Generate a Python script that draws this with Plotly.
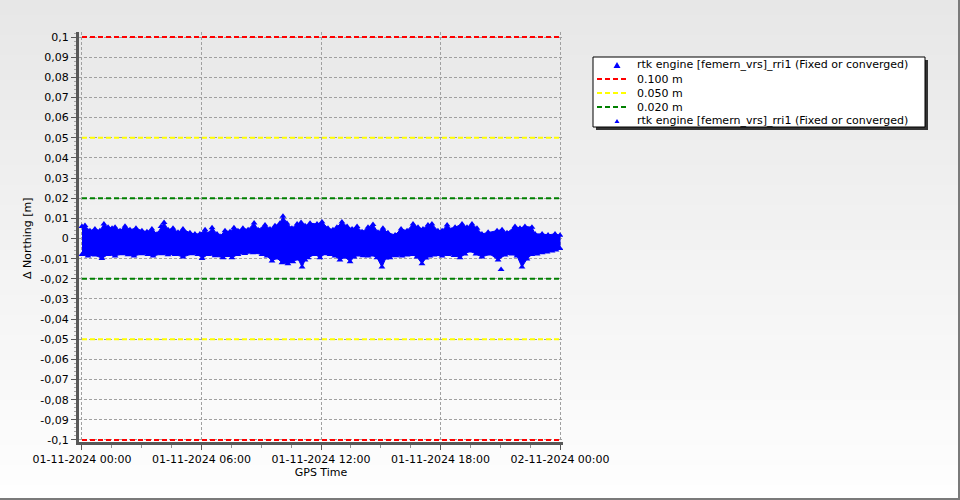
import plotly.graph_objects as go
import pandas as pd

# ---------------- data ----------------
SERIES_NAME = "rtk engine [femern_vrs]_rri1 (Fixed or converged)"
DAY_START = "2024-11-01 00:00"
DAY_END = "2024-11-02 00:00"

# upper envelope of the dense point cloud: hours after DAY_START, value in mm
UPPER_H = [0.00, 0.15, 0.40, 0.65, 0.90, 1.10, 1.31, 1.51, 1.66, 1.91, 2.16, 2.41, 2.71, 3.01,
           3.26, 3.51, 3.77, 3.97, 4.12, 4.32, 4.57, 4.82, 5.07, 5.42, 5.67, 5.92, 6.18, 6.33,
           6.53, 6.78, 6.93, 7.18, 7.43, 7.63, 7.83, 8.08, 8.34, 8.64, 8.84, 9.19, 9.44, 9.69,
           9.94, 10.09, 10.29, 10.54, 10.80, 11.00, 11.20, 11.45, 11.80, 12.05, 12.35, 12.60,
           12.80, 13.05, 13.31, 13.56, 13.81, 14.06, 14.36, 14.61, 14.86, 15.11, 15.36, 15.72,
           16.02, 16.32, 16.62, 16.87, 17.12, 17.37, 17.57, 17.87, 18.08, 18.33, 18.58, 18.73,
           19.08, 19.33, 19.58, 19.83, 20.08, 20.39, 20.84, 21.09, 21.34, 21.74, 21.99, 22.24,
           22.59, 22.75, 23.10, 23.40, 23.75, 24.00]
UPPER_MM = [6.0, 6.4, 3.9, 4.7, 3.9, 7.2, 5.6, 5.1, 5.6, 3.9, 6.1, 4.4, 5.1, 3.9,
            3.4, 4.7, 2.3, 6.0, 8.0, 4.4, 5.1, 3.1, 4.7, 2.8, 2.3, 2.3, 4.4, 2.3,
            5.4, 2.3, 1.1, 3.9, 3.4, 5.4, 3.9, 5.1, 4.4, 7.7, 4.4, 6.7, 4.7, 6.3,
            7.6, 11.0, 7.6, 5.1, 7.2, 8.0, 6.3, 7.6, 7.2, 8.2, 5.1, 4.4,
            5.6, 8.2, 6.0, 4.7, 6.0, 3.4, 5.6, 7.0, 3.1, 5.1, 2.8, 1.8,
            4.7, 3.9, 7.2, 5.6, 4.7, 6.7, 7.2, 3.9, 3.9, 6.7, 4.4, 5.6,
            7.2, 5.6, 7.2, 5.1, 2.3, 3.1, 3.9, 4.4, 2.8, 6.0, 5.1, 6.0,
            5.6, 2.3, 2.3, 1.8, 2.3, 1.6]

# lower envelope of the dense point cloud: hours after DAY_START, value in mm
LOWER_H = [0.00, 0.30, 0.65, 1.00, 1.31, 1.66, 2.01, 2.31, 2.61, 3.01, 3.31, 3.57, 4.02, 4.32,
           4.67, 5.07, 5.52, 5.82, 6.03, 6.33, 6.68, 7.08, 7.33, 7.53, 7.83, 8.18, 8.59, 9.04,
           9.29, 9.54, 9.79, 10.04, 10.34, 10.59, 10.85, 11.05, 11.20, 11.35, 11.70, 11.95,
           12.20, 12.45, 12.70, 12.95, 13.21, 13.46, 13.66, 13.86, 14.11, 14.36, 14.56, 14.81,
           15.06, 15.26, 15.46, 15.77, 16.07, 16.32, 16.57, 16.82, 17.07, 17.27, 17.47, 17.67,
           17.87, 18.08, 18.38, 18.68, 18.98, 19.23, 19.48, 19.78, 20.08, 20.49, 20.89, 21.24,
           21.59, 21.84, 22.09, 22.34, 22.59, 22.85, 23.10, 23.35, 23.60, 23.80, 24.00]
LOWER_MM = [-7.9, -8.7, -8.2, -9.9, -7.9, -8.7, -7.6, -8.1, -8.7, -7.6, -7.9, -8.7, -7.6, -8.0,
            -7.9, -9.2, -7.6, -7.9, -9.9, -7.9, -8.5, -9.5, -8.4, -9.5, -7.9, -7.5, -7.1, -7.9,
            -8.7, -11.2, -9.7, -12.0, -12.5, -11.5, -10.2, -14.2, -10.7, -9.5, -7.9, -9.5,
            -7.6, -7.9, -8.7, -10.7, -9.2, -11.5, -9.2, -8.2, -8.5, -8.7, -8.2, -9.5,
            -14.2, -9.7, -9.5, -8.5, -8.7, -8.2, -7.9, -9.2, -12.5, -9.7, -8.7, -8.2,
            -7.9, -8.7, -7.9, -8.4, -9.5, -7.7, -6.2, -7.7, -9.2, -7.7, -10.7, -8.2,
            -7.7, -8.7, -14.2, -10.2, -7.9, -7.7, -7.1, -6.7, -6.2, -5.7, -4.9]

# isolated point below the cloud
OUTLIER_H = [21.04]
OUTLIER_MM = [-15.4]

THRESH_NAMES = ["0.100 m", "0.050 m", "0.020 m"]
THRESH_VALS = [0.100, 0.050, 0.020]

Y_TICKS = [0.1, 0.09, 0.08, 0.07, 0.06, 0.05, 0.04, 0.03, 0.02, 0.01, 0.0,
           -0.01, -0.02, -0.03, -0.04, -0.05, -0.06, -0.07, -0.08, -0.09, -0.1]
Y_TICK_TEXT = ["0,1", "0,09", "0,08", "0,07", "0,06", "0,05", "0,04", "0,03", "0,02", "0,01", "0",
               "-0,01", "-0,02", "-0,03", "-0,04", "-0,05", "-0,06", "-0,07", "-0,08", "-0,09", "-0,1"]
X_TICKS = ["2024-11-01 00:00", "2024-11-01 06:00", "2024-11-01 12:00",
           "2024-11-01 18:00", "2024-11-02 00:00"]
X_TICK_TEXT = ["01-11-2024 00:00", "01-11-2024 06:00", "01-11-2024 12:00",
               "01-11-2024 18:00", "02-11-2024 00:00"]
X_TITLE = "GPS Time"
Y_TITLE = "Δ Northing [m]"

# ---------------- styles / layout ----------------
BLUE = "#0000ff"
THRESH_COLORS = ["#ff0000", "#ffff00", "#008000"]
FONT = "DejaVu Sans"
FS = 11

W, H = 960, 500
L, R, T, B = 79, 563, 32, 442


def pxx(x):
    return (x - L) / (R - L)


def pxy(y):
    return (B - y) / (B - T)


t0 = pd.Timestamp(DAY_START)


def to_time(hours):
    return [t0 + pd.to_timedelta(h, unit="h") for h in hours]


up_t = to_time(UPPER_H)
lo_t = to_time(LOWER_H)
up_v = [v / 1000 for v in UPPER_MM]
lo_v = [v / 1000 for v in LOWER_MM]

fig = go.Figure()

# threshold lines
for name, val, col in zip(THRESH_NAMES, THRESH_VALS, THRESH_COLORS):
    fig.add_trace(go.Scatter(
        x=[DAY_START, DAY_END, None, DAY_START, DAY_END],
        y=[val, val, None, -val, -val],
        mode="lines", name=name,
        line=dict(color=col, width=2, dash="5px,3px"),
        hoverinfo="skip", showlegend=False))

# dense point cloud: solid body between the envelopes
fig.add_trace(go.Scatter(
    x=up_t + lo_t[::-1], y=up_v + lo_v[::-1],
    mode="lines", fill="toself", fillcolor=BLUE,
    line=dict(color=BLUE, width=1), name=SERIES_NAME,
    hoverinfo="skip", showlegend=False))

mk = dict(symbol="triangle-up", size=6, color=BLUE, line=dict(width=0))
fig.add_trace(go.Scatter(x=up_t, y=up_v, mode="markers", marker=mk, name=SERIES_NAME, showlegend=False))
fig.add_trace(go.Scatter(x=lo_t, y=lo_v, mode="markers", marker=mk, name=SERIES_NAME, showlegend=False))
fig.add_trace(go.Scatter(x=to_time(OUTLIER_H), y=[v / 1000 for v in OUTLIER_MM],
                         mode="markers", marker=mk, name=SERIES_NAME, showlegend=False))

shapes = []
# background gradient (whole figure)
N = 100
for i in range(N):
    y0 = i * H / N
    y1 = (i + 1) * H / N
    f = i / (N - 1)
    c = int(round(231 + (254 - 231) * f))
    shapes.append(dict(type="rect", xref="paper", yref="paper",
                       x0=pxx(0), x1=pxx(W), y0=pxy(y0), y1=pxy(y1 + 0.5),
                       fillcolor=f"rgb({c},{c},{c})", line=dict(width=0), layer="below"))
# outer frame (right and bottom edges)
shapes.append(dict(type="line", xref="paper", yref="paper", x0=pxx(959), x1=pxx(959),
                   y0=pxy(0), y1=pxy(500), line=dict(color="#7a7a7a", width=2)))
shapes.append(dict(type="line", xref="paper", yref="paper", x0=pxx(0), x1=pxx(960),
                   y0=pxy(499), y1=pxy(499), line=dict(color="#7a7a7a", width=2)))

# legend box (manual, to match the compact row spacing)
LX0, LX1, LY0, LY1 = 593, 925, 57, 127
shapes.append(dict(type="rect", xref="paper", yref="paper",
                   x0=pxx(LX0 + 3), x1=pxx(LX1 + 3), y0=pxy(LY0 + 3), y1=pxy(LY1 + 3),
                   fillcolor="#333333", line=dict(width=0)))
shapes.append(dict(type="rect", xref="paper", yref="paper",
                   x0=pxx(LX0), x1=pxx(LX1), y0=pxy(LY0), y1=pxy(LY1),
                   fillcolor="#ffffff", line=dict(color="#000000", width=1)))

rows = [65, 79, 93, 107, 121]
sym_x = 617
txt_x = 636


def tri(cx, cy, w, h):
    return (f"M {pxx(cx - w / 2)},{pxy(cy + h / 2)} L {pxx(cx + w / 2)},{pxy(cy + h / 2)} "
            f"L {pxx(cx)},{pxy(cy - h / 2)} Z")


shapes.append(dict(type="path", xref="paper", yref="paper", path=tri(sym_x, rows[0], 7, 6),
                   fillcolor=BLUE, line=dict(width=0)))
shapes.append(dict(type="path", xref="paper", yref="paper", path=tri(sym_x, rows[4], 5, 4),
                   fillcolor=BLUE, line=dict(width=0)))
for r, col in zip(rows[1:4], THRESH_COLORS):
    shapes.append(dict(type="line", xref="paper", yref="paper",
                       x0=pxx(597), x1=pxx(629), y0=pxy(r), y1=pxy(r),
                       line=dict(color=col, width=2, dash="5px,3px")))

legend_texts = [SERIES_NAME] + THRESH_NAMES + [SERIES_NAME]
annotations = []
for r, txt in zip(rows, legend_texts):
    annotations.append(dict(text=txt, xref="paper", yref="paper", x=pxx(txt_x), y=pxy(r),
                            xanchor="left", yanchor="middle", showarrow=False,
                            font=dict(family=FONT, size=FS, color="#000000"), borderpad=0))
# y axis title, placed like the reference
annotations.append(dict(text=Y_TITLE, xref="paper", yref="paper", x=pxx(27), y=pxy(238),
                        xanchor="center", yanchor="middle", textangle=-90, showarrow=False,
                        font=dict(family=FONT, size=FS, color="#000000"), borderpad=0))

grid = dict(showgrid=True, gridcolor="#a0a0a0", gridwidth=1, griddash="3px,2px", zeroline=False,
            showline=True, linecolor="#585858", linewidth=3, ticks="outside", ticklen=5,
            tickwidth=1, tickcolor="#585858", tickfont=dict(family=FONT, size=FS, color="#000000"))

fig.update_layout(
    width=W, height=H,
    margin=dict(l=L, r=W - R, t=T, b=H - B, autoexpand=False),
    paper_bgcolor="#eeeeee", plot_bgcolor="rgba(0,0,0,0)",
    font=dict(family=FONT, size=FS, color="#000000"),
    showlegend=False,
    shapes=shapes, annotations=annotations,
    xaxis=dict(type="date",
               range=[t0 - pd.Timedelta(minutes=9), pd.Timestamp(DAY_END) + pd.Timedelta(minutes=9)],
               tickmode="array", tickvals=X_TICKS, ticktext=X_TICK_TEXT,
               minor=dict(tickmode="linear", tick0=DAY_START, dtick=5400000, ticks="outside",
                          ticklen=3, tickcolor="#909090", showgrid=False),
               title=dict(text=X_TITLE, standoff=2, font=dict(family=FONT, size=FS, color="#000000")),
               **grid),
    yaxis=dict(range=[-0.101, 0.1025], tickmode="array", tickvals=Y_TICKS, ticktext=Y_TICK_TEXT,
               minor=dict(tickmode="linear", tick0=0, dtick=0.002, ticks="outside",
                          ticklen=2, tickcolor="#a8a8a8", showgrid=False),
               **grid),
)

fig.write_html(
    "out.html",
    config={"displayModeBar": False},
    post_script=["document.body.style.margin='0';document.documentElement.style.overflow='hidden';"],
)
